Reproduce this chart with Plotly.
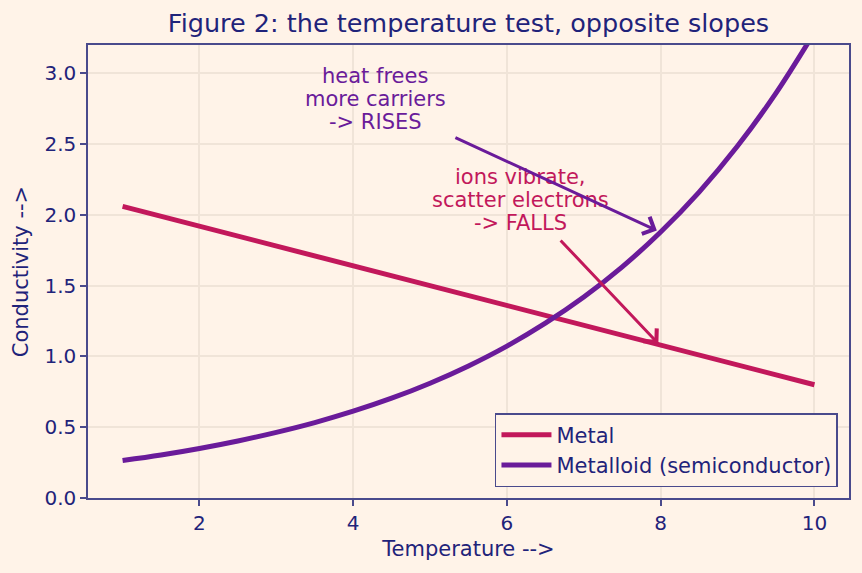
import plotly.graph_objects as go

# Data
temperature = [1, 1.5, 2, 2.5, 3, 3.5, 4, 4.5, 5, 5.5, 6, 6.5, 7, 7.5, 8, 8.5, 9, 9.5, 10]
metal = [2.06, 1.99, 1.92, 1.85, 1.78, 1.71, 1.64, 1.57, 1.50, 1.43, 1.36, 1.29, 1.22, 1.15, 1.08, 1.01, 0.94, 0.87, 0.80]
metalloid = [0.265, 0.304, 0.350, 0.403, 0.464, 0.533, 0.613, 0.705, 0.811, 0.933, 1.073, 1.235, 1.420,
             1.633, 1.879, 2.161, 2.486, 2.860, 3.289]
x_ticks = [2, 4, 6, 8, 10]
y_ticks = [0.0, 0.5, 1.0, 1.5, 2.0, 2.5, 3.0]
y_tick_labels = ["0.0", "0.5", "1.0", "1.5", "2.0", "2.5", "3.0"]
rises_lines = ["heat frees", "more carriers", "-> RISES"]
falls_lines = ["ions vibrate,", "scatter electrons", "-> FALLS"]

BG = "#fff3e8"
NAVY = "#1f237a"
FRAME = "#4a4a8c"
GRID = "#f0e4d8"
METAL_C = "#c2185b"
METALLOID_C = "#6a1b9a"
FONT = "DejaVu Sans"
FS = 21

fig = go.Figure()
fig.add_trace(go.Scatter(x=temperature, y=metal, mode="lines", name="Metal",
                         line=dict(color=METAL_C, width=5)))
fig.add_trace(go.Scatter(x=temperature, y=metalloid, mode="lines", name="Metalloid (semiconductor)",
                         line=dict(color=METALLOID_C, width=5, shape="spline")))

# Annotation texts, one line per annotation (tight line spacing like the reference)
for i, line in enumerate(rises_lines):
    fig.add_annotation(x=4.29, y=2.98 - i * 0.163, text=line, showarrow=False,
                       font=dict(family=FONT, size=FS, color=METALLOID_C), xref="x", yref="y")
for i, line in enumerate(falls_lines):
    fig.add_annotation(x=6.18, y=2.27 - i * 0.163, text=line, showarrow=False,
                       font=dict(family=FONT, size=FS, color=METAL_C), xref="x", yref="y")

# Arrows
fig.add_annotation(x=7.95, y=1.89, ax=5.31, ay=2.55, axref="x", ayref="y", xref="x", yref="y",
                   text="", showarrow=True, arrowhead=4, arrowsize=1.2, arrowwidth=3,
                   arrowcolor=METALLOID_C)
fig.add_annotation(x=7.97, y=1.09, ax=6.68, ay=1.83, axref="x", ayref="y", xref="x", yref="y",
                   text="", showarrow=True, arrowhead=4, arrowsize=1.2, arrowwidth=3,
                   arrowcolor=METAL_C)

fig.update_layout(
    width=862, height=573,
    margin=dict(l=88, r=13, t=45, b=75),
    paper_bgcolor=BG, plot_bgcolor=BG,
    font=dict(family=FONT, size=FS, color=NAVY),
    title=dict(text="Figure 2: the temperature test, opposite slopes", x=0.5435, xanchor="center",
               y=0.96, yanchor="middle", yref="container",
               font=dict(family=FONT, size=25.5, color=NAVY)),
    showlegend=True,
    legend=dict(x=0.9855, y=0.024, xanchor="right", yanchor="bottom",
                bgcolor=BG, bordercolor=FRAME, borderwidth=1.5, itemwidth=50,
                font=dict(family=FONT, size=FS, color=NAVY), tracegroupgap=0),
    xaxis=dict(range=[0.55, 10.45], tickvals=x_ticks, showgrid=True, gridcolor=GRID, gridwidth=1.5,
               zeroline=False, showline=True, linecolor=FRAME, linewidth=1.5, mirror=True,
               ticks="outside", ticklen=6, tickcolor=FRAME, tickwidth=1.5,
               tickfont=dict(size=20),
               title=dict(text="Temperature -->", standoff=8, font=dict(size=FS, color=NAVY))),
    yaxis=dict(range=[0, 3.2], tickvals=y_ticks, ticktext=y_tick_labels, showgrid=True, gridcolor=GRID,
               gridwidth=1.5, zeroline=False, showline=True, linecolor=FRAME, linewidth=1.5, mirror=True,
               ticks="outside", ticklen=6, tickcolor=FRAME, tickwidth=1.5,
               tickfont=dict(size=20),
               title=dict(text="Conductivity -->", standoff=10, font=dict(size=FS, color=NAVY))),
)

fig.write_html("out.html")
